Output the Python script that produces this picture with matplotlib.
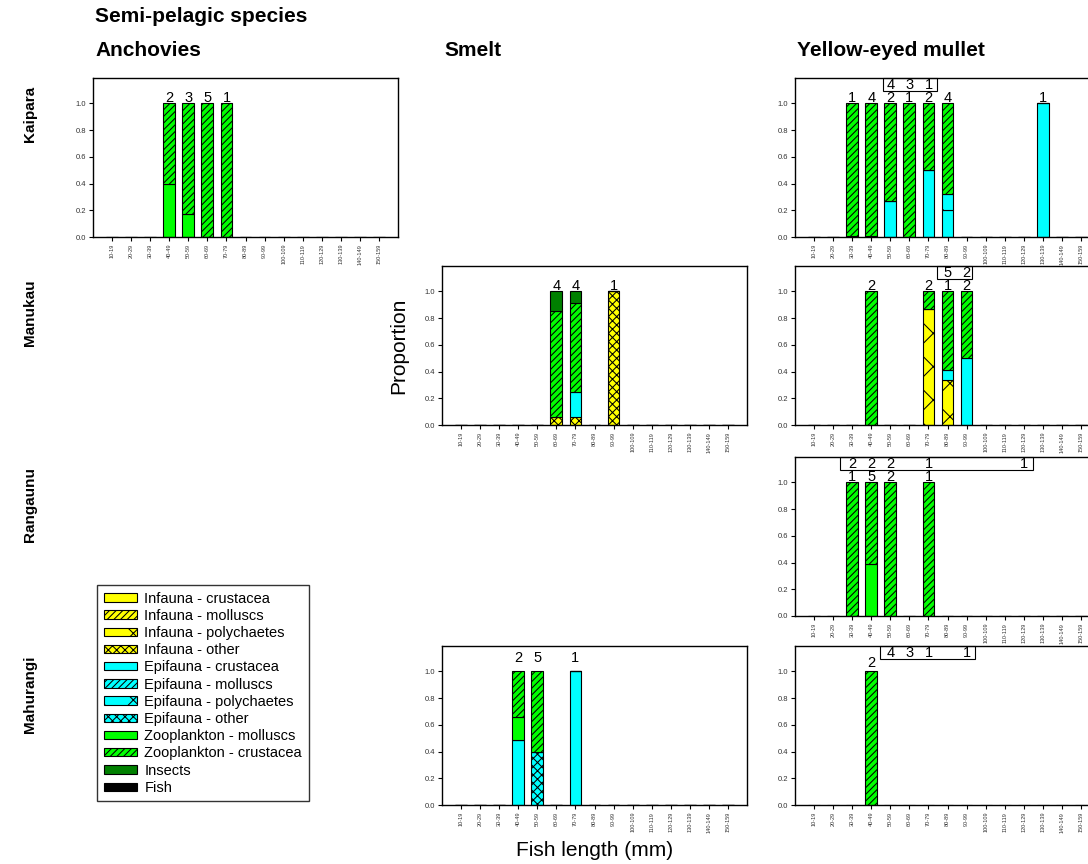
import matplotlib
matplotlib.use("Agg")
import matplotlib.pyplot as plt
from matplotlib.patches import Patch, Rectangle

# Diet composition by length class, semi-pelagic species

plt.rcParams["font.family"] = ["Liberation Sans", "DejaVu Sans"]
plt.rcParams["hatch.linewidth"] = 0.75

BINS = ["10-19", "20-29", "30-39", "40-49", "50-59", "60-69", "70-79", "80-89",
        "90-99", "100-109", "110-119", "120-129", "130-139", "140-149", "150-159"]

COMPONENTS = ["Infauna - crustacea", "Infauna - molluscs", "Infauna - polychaetes",
              "Infauna - other", "Epifauna - crustacea", "Epifauna - molluscs",
              "Epifauna - polychaetes", "Epifauna - other", "Zooplankton - molluscs",
              "Zooplankton - crustacea", "Insects", "Fish"]
CODES = ["IC", "IM", "IP", "IO", "EC", "EM", "EP", "EO", "ZM", "ZC", "INS", "F"]
COLORS = ["#FFFF00", "#FFFF00", "#FFFF00", "#FFFF00", "#00FFFF", "#00FFFF",
          "#00FFFF", "#00FFFF", "#00FF00", "#00FF00", "#008000", "#000000"]
HATCHES = [None, "/////", "x", "xxxx", None, "/////", "x", "xxxx", None, "/////", None, None]

SITES = ["Kaipara", "Manukau", "Rangaunu", "Mahurangi"]
SPECIES = ["Anchovies", "Smelt", "Yellow-eyed mullet"]

# proportions per length class (bottom-up in legend order)
kaipara_anchovies = {"40-49": {"ZM": 0.40, "ZC": 0.60},
                     "50-59": {"ZM": 0.17, "ZC": 0.83},
                     "60-69": {"ZC": 1.0},
                     "70-79": {"ZC": 1.0}}
kaipara_anchovies_n = {"40-49": 2, "50-59": 3, "60-69": 5, "70-79": 1}

kaipara_mullet = {"30-39": {"EC": 0.01, "ZC": 0.99},
                  "40-49": {"EC": 0.01, "ZC": 0.99},
                  "50-59": {"EC": 0.27, "ZC": 0.73},
                  "60-69": {"ZC": 1.0},
                  "70-79": {"EC": 0.50, "ZC": 0.50},
                  "80-89": {"EC": 0.20, "EP": 0.12, "ZC": 0.68},
                  "130-139": {"EC": 1.0}}
kaipara_mullet_n = {"30-39": 1, "40-49": 4, "50-59": 2, "60-69": 1, "70-79": 2,
                    "80-89": 4, "130-139": 1}
kaipara_mullet_n2 = {"50-59": 4, "60-69": 3, "70-79": 1}

manukau_smelt = {"60-69": {"IO": 0.06, "ZC": 0.79, "INS": 0.15},
                 "70-79": {"IO": 0.06, "EC": 0.19, "ZC": 0.66, "INS": 0.09},
                 "90-99": {"IO": 1.0}}
manukau_smelt_n = {"60-69": 4, "70-79": 4, "90-99": 1}

manukau_mullet = {"40-49": {"ZC": 1.0},
                  "70-79": {"IP": 0.87, "ZC": 0.13},
                  "80-89": {"IP": 0.34, "EC": 0.07, "ZC": 0.59},
                  "90-99": {"EC": 0.50, "ZC": 0.50}}
manukau_mullet_n = {"40-49": 2, "70-79": 2, "80-89": 1, "90-99": 2}
manukau_mullet_n2 = {"80-89": 5, "90-99": 2}

rangaunu_mullet = {"30-39": {"ZC": 1.0},
                   "40-49": {"ZM": 0.39, "ZC": 0.61},
                   "50-59": {"ZC": 1.0},
                   "70-79": {"ZC": 1.0}}
rangaunu_mullet_n = {"30-39": 1, "40-49": 5, "50-59": 2, "70-79": 1}
rangaunu_mullet_n2 = {"30-39": 2, "40-49": 2, "50-59": 2, "70-79": 1, "120-129": 1}

mahurangi_smelt = {"40-49": {"EC": 0.49, "ZM": 0.17, "ZC": 0.34},
                   "50-59": {"EO": 0.40, "ZC": 0.60},
                   "70-79": {"EC": 1.0}}
mahurangi_smelt_n = {"40-49": 2, "50-59": 5, "70-79": 1}

mahurangi_mullet = {"40-49": {"ZC": 1.0}}
mahurangi_mullet_n = {"40-49": 2}
mahurangi_mullet_n2 = {"50-59": 4, "60-69": 3, "70-79": 1, "90-99": 1}

# (row, col): data, counts, boxed counts, box span, count label height
PANELS = {
    (0, 0): (kaipara_anchovies, kaipara_anchovies_n, None, None, 1.04),
    (0, 2): (kaipara_mullet, kaipara_mullet_n, kaipara_mullet_n2, (3.6, 6.45), 1.04),
    (1, 1): (manukau_smelt, manukau_smelt_n, None, None, 1.04),
    (1, 2): (manukau_mullet, manukau_mullet_n, manukau_mullet_n2, (6.45, 8.3), 1.04),
    (2, 2): (rangaunu_mullet, rangaunu_mullet_n, rangaunu_mullet_n2, (1.35, 11.5), 1.04),
    (3, 1): (mahurangi_smelt, mahurangi_smelt_n, None, None, 1.10),
    (3, 2): (mahurangi_mullet, mahurangi_mullet_n, mahurangi_mullet_n2, (3.45, 8.45), 1.06),
}

W, H = 1088, 864
AX_LEFT = [93, 442, 795]
AX_TOP = [78, 266, 457, 646]
AX_W, AX_H = 305, 159


def draw_panel(ax, props, counts, counts2, span, label_y):
    x = list(range(len(BINS)))
    bottom = [0.0] * len(BINS)
    for code, color, hatch in zip(CODES, COLORS, HATCHES):
        vals = [props.get(b, {}).get(code, 0.0) for b in BINS]
        if not any(vals):
            continue
        ax.bar(x, vals, width=0.62, bottom=bottom, color=color, hatch=hatch,
               edgecolor="black", linewidth=0.8, zorder=2)
        bottom = [b + v for b, v in zip(bottom, vals)]

    for b, n in counts.items():
        ax.text(BINS.index(b), label_y, str(n), ha="center", va="center",
                fontsize=10.5, zorder=3)

    if counts2:
        ax.add_patch(Rectangle((span[0], 1.09), span[1] - span[0], 0.10,
                               fill=False, edgecolor="black", linewidth=0.8,
                               clip_on=False, zorder=3))
        for b, n in counts2.items():
            ax.text(BINS.index(b), 1.14, str(n), ha="center", va="center",
                    fontsize=10.5, zorder=3)

    ax.set_xlim(-1, len(BINS))
    ax.set_ylim(0, 1.19)
    ax.set_xticks(x)
    ax.set_xticklabels(BINS, rotation=90, fontsize=4, color="#333333")
    ax.set_yticks([0, 0.2, 0.4, 0.6, 0.8, 1.0])
    ax.set_yticklabels(["0.0", "0.2", "0.4", "0.6", "0.8", "1.0"],
                       fontsize=5.5, color="#333333")
    ax.tick_params(direction="out", length=3, width=0.8, pad=2)
    for s in ax.spines.values():
        s.set_linewidth(1.0)


fig = plt.figure(figsize=(W / 100, H / 100), dpi=100)

for (r, c), (props, counts, counts2, span, label_y) in PANELS.items():
    rect = [AX_LEFT[c] / W, 1 - (AX_TOP[r] + AX_H) / H, AX_W / W, AX_H / H]
    ax = fig.add_axes(rect)
    draw_panel(ax, props, counts, counts2, span, label_y)
    if (r, c) == (1, 1):
        ax.set_ylabel("Proportion", fontsize=15, labelpad=12)
    if (r, c) == (3, 1):
        ax.set_xlabel("Fish length (mm)", fontsize=15, labelpad=6)

fig.text(95 / W, 1 - 17 / H, "Semi-pelagic species", fontsize=15,
         fontweight="bold", ha="left", va="center")
for c, name in enumerate(SPECIES):
    fig.text((AX_LEFT[c] + 2) / W, 1 - 50 / H, name, fontsize=15,
             fontweight="bold", ha="left", va="center")

ROW_LABEL_Y = [114, 313, 505, 694]
for name, y in zip(SITES, ROW_LABEL_Y):
    fig.text(30 / W, 1 - y / H, name, fontsize=11, fontweight="bold",
             rotation=90, ha="center", va="center")

handles = [Patch(facecolor=col, hatch=h, edgecolor="black", linewidth=0.8, label=lab)
           for lab, col, h in zip(COMPONENTS, COLORS, HATCHES)]
leg = fig.legend(handles=handles, loc="upper left",
                 bbox_to_anchor=(97 / W, 1 - 585 / H), fontsize=10.5,
                 frameon=True, fancybox=False, edgecolor="black",
                 handlelength=2.3, handleheight=0.5, handletextpad=0.5,
                 labelspacing=0.22, borderpad=0.45, borderaxespad=0)
leg.get_frame().set_linewidth(1.0)

fig.savefig("out.png", dpi=100)
